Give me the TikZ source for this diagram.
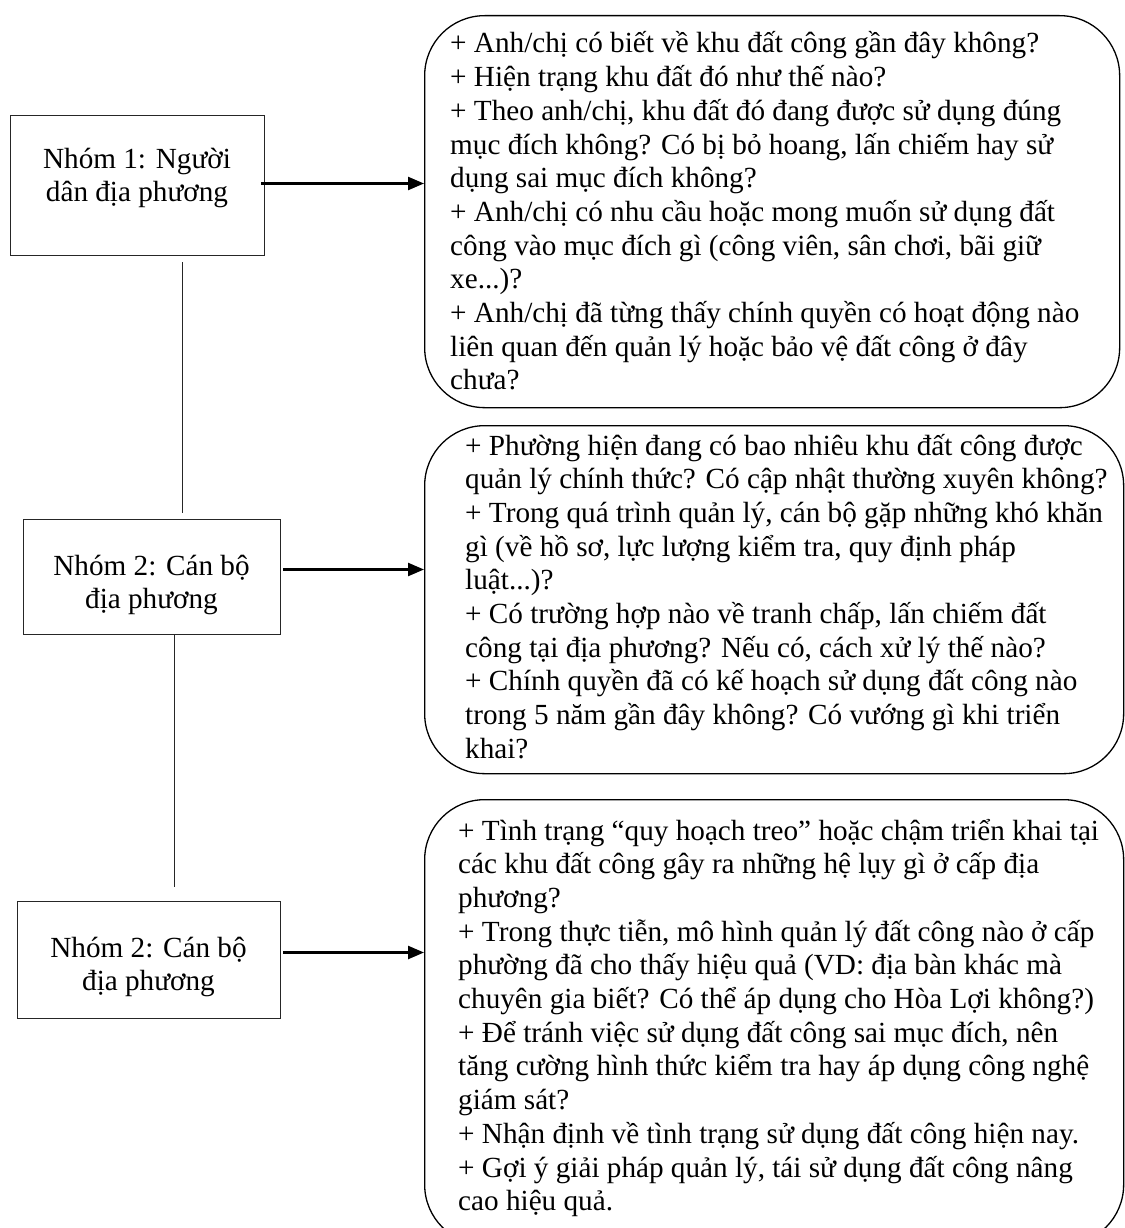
\documentclass[tikz,border=0pt]{standalone}
\usepackage{fontspec}
\setmainfont{Liberation Serif}
\usetikzlibrary{arrows.meta}
\newcommand{\qfont}{\fontsize{29.2}{33.7}\selectfont}
\tikzset{
  grpbox/.style={draw=black!85, line width=1pt, anchor=north west, inner sep=0pt},
  qbox/.style={draw=black, line width=1.3pt, rounded corners=60pt, anchor=north west, inner sep=0pt},
  grptext/.style={anchor=base, inner sep=0pt, align=center, font=\qfont},
  qtext/.style={anchor=base west, inner sep=0pt, font=\qfont},
  arr/.style={line width=2.4pt, -{Triangle[length=16pt,width=13pt]}},
  conn/.style={line width=1pt, draw=black!85}
}
\begin{document}
\begin{tikzpicture}[x=1pt,y=-1pt]
\useasboundingbox (0,0) rectangle (1124,1228);
% left group boxes
\node[grpbox, minimum width=254pt, minimum height=140pt] (g1) at (10,115) {};
\node[grpbox, minimum width=257pt, minimum height=115pt] (g2) at (23,519) {};
\node[grpbox, minimum width=263pt, minimum height=117pt] (g3) at (17,901) {};
\node[grptext] (g1t) at (137,168) {\parbox[t]{250pt}{\centering Nhóm 1: Người\\dân địa phương}};
\node[grptext] (g2t) at (151.5,575) {\parbox[t]{250pt}{\centering Nhóm 2: Cán bộ\\địa phương}};
\node[grptext] (g3t) at (148.5,957) {\parbox[t]{250pt}{\centering Nhóm 2: Cán bộ\\địa phương}};
% question boxes
\node[qbox, minimum width=695pt, minimum height=392pt] (qa) at (424,15) {};
\node[qbox, minimum width=699pt, minimum height=348pt] (qb) at (424,425) {};
\node[qbox, minimum width=699pt, minimum height=445pt] (qc) at (424,799) {};
\node[qtext] (qat) at (450,53) {\parbox[t]{700pt}{\raggedright
+ Anh/chị có biết về khu đất công gần đây không?\\
+ Hiện trạng khu đất đó như thế nào?\\
+ Theo anh/chị, khu đất đó đang được sử dụng đúng\\
mục đích không? Có bị bỏ hoang, lấn chiếm hay sử\\
dụng sai mục đích không?\\
+ Anh/chị có nhu cầu hoặc mong muốn sử dụng đất\\
công vào mục đích gì (công viên, sân chơi, bãi giữ\\
xe...)?\\
+ Anh/chị đã từng thấy chính quyền có hoạt động nào\\
liên quan đến quản lý hoặc bảo vệ đất công ở đây\\
chưa?}};
\node[qtext] (qbt) at (465,455) {\parbox[t]{700pt}{\raggedright
+ Phường hiện đang có bao nhiêu khu đất công được\\
quản lý chính thức? Có cập nhật thường xuyên không?\\
+ Trong quá trình quản lý, cán bộ gặp những khó khăn\\
gì (về hồ sơ, lực lượng kiểm tra, quy định pháp\\
luật...)?\\
+ Có trường hợp nào về tranh chấp, lấn chiếm đất\\
công tại địa phương? Nếu có, cách xử lý thế nào?\\
+ Chính quyền đã có kế hoạch sử dụng đất công nào\\
trong 5 năm gần đây không? Có vướng gì khi triển\\
khai?}};
\node[qtext] (qct) at (458,840) {\parbox[t]{700pt}{\raggedright
+ Tình trạng “quy hoạch treo” hoặc chậm triển khai tại\\
các khu đất công gây ra những hệ lụy gì ở cấp địa\\
phương?\\
+ Trong thực tiễn, mô hình quản lý đất công nào ở cấp\\
phường đã cho thấy hiệu quả (VD: địa bàn khác mà\\
chuyên gia biết? Có thể áp dụng cho Hòa Lợi không?)\\
+ Để tránh việc sử dụng đất công sai mục đích, nên\\
tăng cường hình thức kiểm tra hay áp dụng công nghệ\\
giám sát?\\
+ Nhận định về tình trạng sử dụng đất công hiện nay.\\
+ Gợi ý giải pháp quản lý, tái sử dụng đất công nâng\\
cao hiệu quả.}};
% arrows
\draw[arr] ([xshift=-4pt,yshift=2pt]g1.east) -- ([yshift=2pt]g1.east -| qa.west);
\draw[arr] ([xshift=2pt,yshift=7.5pt]g2.east) -- ([yshift=7.5pt]g2.east -| qb.west);
\draw[arr] ([xshift=2pt,yshift=7.5pt]g3.east) -- ([yshift=7.5pt]g3.east -| qc.west);
% vertical connectors
\coordinate (c1a) at (182,262);
\coordinate (c1b) at (182,513);
\coordinate (c2a) at (174,634);
\coordinate (c2b) at (174,887);
\draw[conn] (c1a) -- (c1b);
\draw[conn] (c2a) -- (c2b);
\end{tikzpicture}
\end{document}
